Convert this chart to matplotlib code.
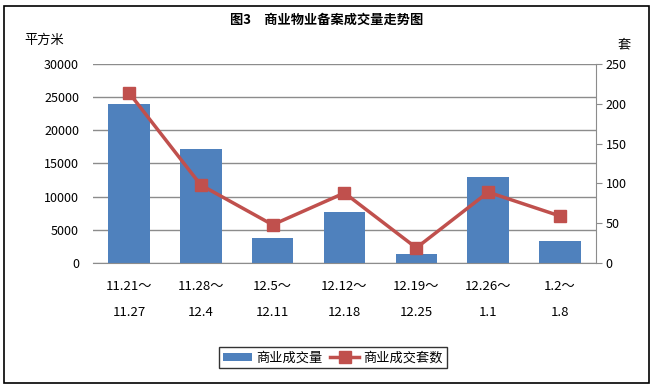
import matplotlib.pyplot as plt
from matplotlib.patches import Rectangle

plt.rcParams["font.family"] = ["Noto Sans CJK SC", "DejaVu Sans"]

# data
periods = ["11.21～\n11.27", "11.28～\n12.4", "12.5～\n12.11", "12.12～\n12.18",
           "12.19～\n12.25", "12.26～\n1.1", "1.2～\n1.8"]
area = [24000, 17200, 3800, 7700, 1400, 13000, 3300]   # 商业成交量 (平方米)
units = [214, 98, 48, 88, 19, 89, 59]                   # 商业成交套数 (套)
left_ticks = [0, 5000, 10000, 15000, 20000, 25000, 30000]
right_ticks = [0, 50, 100, 150, 200, 250]

BAR_COLOR = "#4F81BD"
LINE_COLOR = "#C0504D"
GRID_COLOR = "#8C8C8C"

fig = plt.figure(figsize=(6.53, 3.89), dpi=100)
fig.patches.append(Rectangle((0.006, 0.015), 0.988, 0.97, transform=fig.transFigure,
                             fill=False, edgecolor="black", linewidth=1.2))

ax = fig.add_axes([0.1424, 0.3239, 0.7703, 0.5116])
x = range(len(periods))
ax.bar(x, area, width=0.58, color=BAR_COLOR, zorder=2, label="商业成交量")
ax.set_xlim(-0.5, len(periods) - 0.5)
ax.set_ylim(0, 30000)
ax.set_yticks(left_ticks)
ax.set_yticklabels([str(t) for t in left_ticks], fontsize=9)
ax.yaxis.grid(True, color=GRID_COLOR, linewidth=1)
ax.set_axisbelow(True)
ax.tick_params(axis="y", length=0, pad=10)
ax.set_xticks(list(x))
ax.set_xticklabels(periods, fontsize=9.5, linespacing=2.3)
ax.tick_params(axis="x", length=0, pad=12)
for side in ["left", "top", "right"]:
    ax.spines[side].set_visible(False)
ax.spines["bottom"].set_color(GRID_COLOR)

ax2 = ax.twinx()
ax2.plot(x, units, color=LINE_COLOR, linewidth=2.5, marker="s", markersize=8,
         zorder=3, label="商业成交套数")
ax2.set_ylim(0, 250)
ax2.set_yticks(right_ticks)
ax2.set_yticklabels([str(t) for t in right_ticks], fontsize=9)
ax2.tick_params(axis="y", direction="out", length=4, color=GRID_COLOR, pad=3)
for side in ["left", "top", "bottom"]:
    ax2.spines[side].set_visible(False)
ax2.spines["right"].set_color(GRID_COLOR)

fig.text(0.5, 0.948, "图3　商业物业备案成交量走势图", ha="center", va="center",
         fontsize=9.5, fontweight="bold")
fig.text(0.038, 0.897, "平方米", ha="left", va="center", fontsize=9.5)
fig.text(0.945, 0.885, "套", ha="left", va="center", fontsize=9.5)

h1, l1 = ax.get_legend_handles_labels()
h2, l2 = ax2.get_legend_handles_labels()
leg = fig.legend(h1 + h2, l1 + l2, loc="center", bbox_to_anchor=(0.51, 0.08),
                 ncol=2, fontsize=9.5, frameon=True, fancybox=False,
                 edgecolor="black", handlelength=2.2, handleheight=0.6,
                 columnspacing=0.6, handletextpad=0.3, borderpad=0.3)
leg.get_frame().set_linewidth(1.0)

fig.savefig("out.png", dpi=100)
